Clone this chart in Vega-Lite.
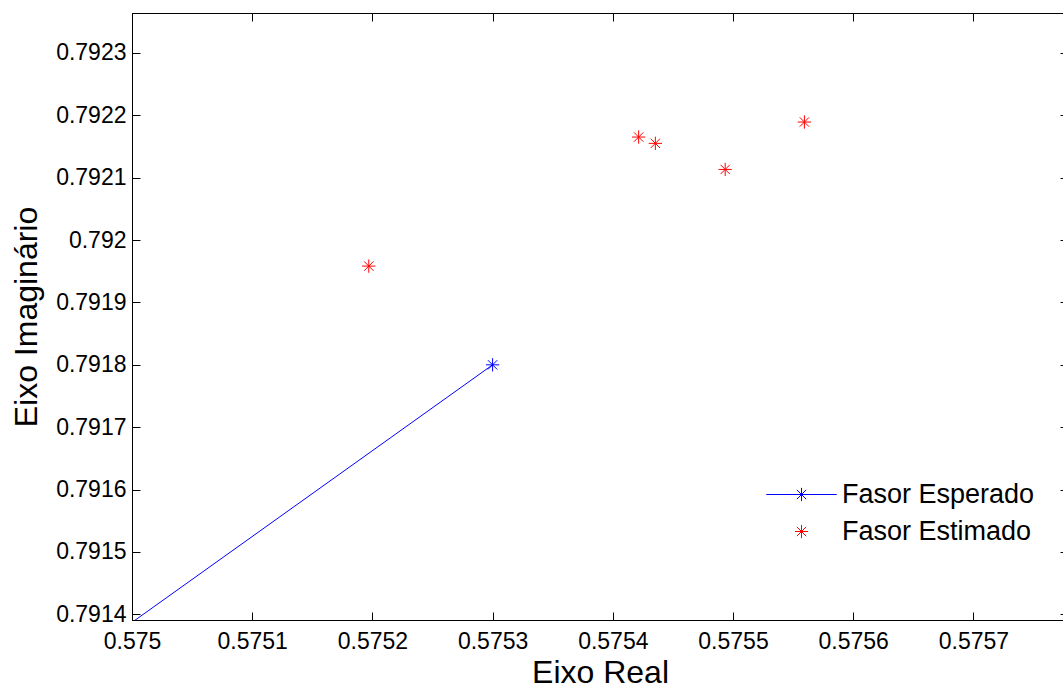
{
  "$schema": "https://vega.github.io/schema/vega-lite/v6.json",
  "width": 936,
  "height": 607,
  "autosize": {"type": "none"},
  "padding": {"left": 132, "top": 13, "right": -5, "bottom": 69},
  "background": "white",
  "config": {
    "view": {"stroke": "black", "strokeWidth": 1},
    "font": "Liberation Sans",
    "axis": {
      "grid": false,
      "domainColor": "black",
      "domainWidth": 1,
      "tickColor": "black",
      "tickWidth": 1,
      "tickSize": -8,
      "labelColor": "black",
      "titleColor": "black",
      "labelFont": "Liberation Sans",
      "titleFont": "Liberation Sans",
      "labelFontSize": 23,
      "titleFontSize": 32,
      "titleFontWeight": "normal",
      "labelFlush": false,
      "labelOverlap": false,
      "labelBound": false,
      "format": ".4~f"
    },
    "legend": {
      "orient": "none",
      "padding": 0,
      "labelFont": "Liberation Sans",
      "labelFontSize": 27,
      "labelColor": "black",
      "labelLimit": 0,
      "labelOffset": 27,
      "symbolSize": 177,
      "symbolStrokeWidth": 1,
      "symbolFillColor": "transparent"
    }
  },
  "datasets": {
    "linha": [
      {"serie": "Fasor Esperado", "re": 0.575, "im": 0.7913871},
      {"serie": "Fasor Esperado", "re": 0.5753, "im": 0.7918}
    ],
    "esperado": [
      {"serie": "Fasor Esperado", "re": 0.5753, "im": 0.7918}
    ],
    "estimado": [
      {"serie": "Fasor Estimado", "re": 0.575197, "im": 0.7919583},
      {"serie": "Fasor Estimado", "re": 0.5754215, "im": 0.7921652},
      {"serie": "Fasor Estimado", "re": 0.5754354, "im": 0.7921551},
      {"serie": "Fasor Estimado", "re": 0.5754935, "im": 0.7921133},
      {"serie": "Fasor Estimado", "re": 0.5755594, "im": 0.7921893}
    ]
  },
  "layer": [
    {
      "data": {"name": "linha"},
      "mark": {"type": "line", "strokeWidth": 1, "clip": true},
      "encoding": {
        "x": {
          "field": "re", "type": "quantitative",
          "scale": {"domain": [0.575, 0.5757787], "nice": false, "zero": false},
          "axis": {"orient": "top", "labels": false, "title": null, "domain": false,
                   "values": [0.575, 0.5751, 0.5752, 0.5753, 0.5754, 0.5755, 0.5756, 0.5757]}
        },
        "y": {
          "field": "im", "type": "quantitative",
          "scale": {"domain": [0.7913909, 0.7923641], "nice": false, "zero": false},
          "axis": {"orient": "right", "labels": false, "title": null, "domain": false,
                   "values": [0.7914, 0.7915, 0.7916, 0.7917, 0.7918, 0.7919, 0.792, 0.7921, 0.7922, 0.7923]}
        },
        "color": {
          "field": "serie", "type": "nominal",
          "scale": {"domain": ["Fasor Esperado"], "range": ["#0000ff"]},
          "legend": {
            "title": null,
            "legendX": 656,
            "legendY": 468,
            "symbolType": "M-5.3,0L5.3,0M0,-1L0,1M-0.7,-0.7L0.7,0.7M-0.7,0.7L0.7,-0.7",
            "symbolStrokeColor": "#0000ff",
            "symbolStrokeWidth": 1
          }
        }
      }
    },
    {
      "data": {"name": "esperado"},
      "mark": {
        "type": "point",
        "shape": "M-1,0L1,0M0,-1L0,1M-0.7,-0.7L0.7,0.7M-0.7,0.7L0.7,-0.7",
        "filled": false,
        "size": 177,
        "strokeWidth": 1,
        "opacity": 1,
        "color": "#0000ff",
        "clip": true
      },
      "encoding": {
        "x": {
          "field": "re", "type": "quantitative",
          "scale": {"domain": [0.575, 0.5757787], "nice": false, "zero": false},
          "axis": null
        },
        "y": {
          "field": "im", "type": "quantitative",
          "scale": {"domain": [0.7913909, 0.7923641], "nice": false, "zero": false},
          "axis": null
        }
      }
    },
    {
      "data": {"name": "estimado"},
      "mark": {
        "type": "point",
        "shape": "M-1,0L1,0M0,-1L0,1M-0.7,-0.7L0.7,0.7M-0.7,0.7L0.7,-0.7",
        "filled": false,
        "size": 177,
        "strokeWidth": 1,
        "opacity": 1,
        "clip": true
      },
      "encoding": {
        "x": {
          "field": "re", "type": "quantitative",
          "scale": {"domain": [0.575, 0.5757787], "nice": false, "zero": false},
          "axis": {"orient": "bottom", "title": "Eixo Real", "titlePadding": 4, "labelPadding": 18,
                   "values": [0.575, 0.5751, 0.5752, 0.5753, 0.5754, 0.5755, 0.5756, 0.5757]}
        },
        "y": {
          "field": "im", "type": "quantitative",
          "scale": {"domain": [0.7913909, 0.7923641], "nice": false, "zero": false},
          "axis": {"orient": "left", "title": "Eixo Imaginário", "titlePadding": 12, "labelPadding": 14,
                   "values": [0.7914, 0.7915, 0.7916, 0.7917, 0.7918, 0.7919, 0.792, 0.7921, 0.7922, 0.7923]}
        },
        "color": {
          "field": "serie", "type": "nominal",
          "scale": {"domain": ["Fasor Estimado"], "range": ["#ff0000"]},
          "legend": {
            "title": null,
            "legendX": 656,
            "legendY": 505,
            "symbolType": "M-1,0L1,0M0,-1L0,1M-0.7,-0.7L0.7,0.7M-0.7,0.7L0.7,-0.7"
          }
        }
      }
    }
  ],
  "resolve": {
    "scale": {"color": "independent"},
    "axis": {"x": "independent", "y": "independent"}
  }
}
